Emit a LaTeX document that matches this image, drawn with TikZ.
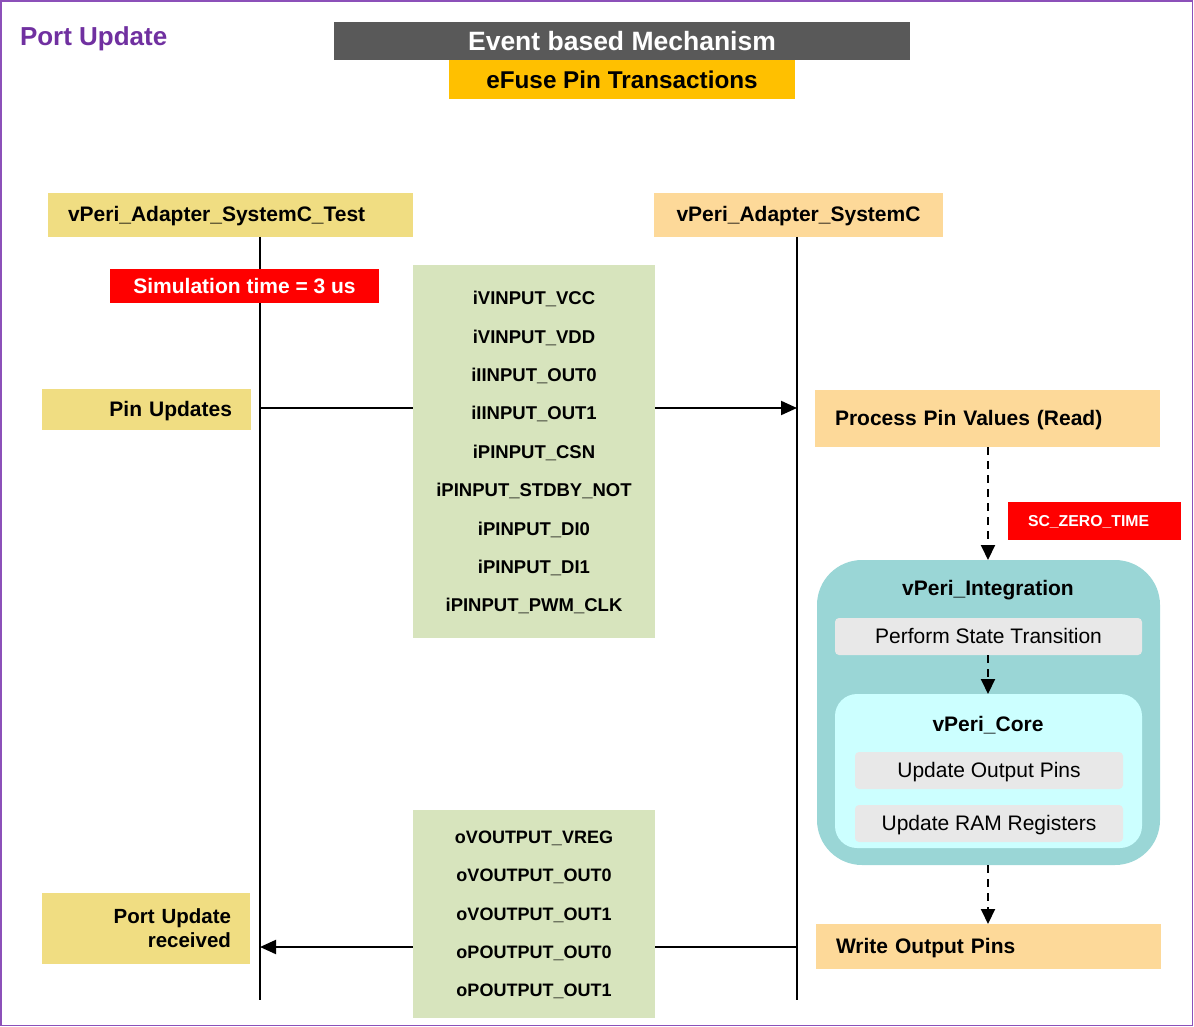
\documentclass[tikz,border=0pt]{standalone}
\usepackage{fontspec}
\setmainfont{Liberation Sans}
\usetikzlibrary{arrows.meta}

\definecolor{framepurple}{RGB}{140,80,185}
\definecolor{titlepurple}{RGB}{112,48,160}
\definecolor{bargrey}{RGB}{89,89,89}
\definecolor{baramber}{RGB}{255,192,0}
\definecolor{khaki}{RGB}{240,221,130}
\definecolor{peach}{RGB}{253,217,153}
\definecolor{sage}{RGB}{215,228,189}
\definecolor{teal}{RGB}{154,214,214}
\definecolor{aqua}{RGB}{204,255,255}
\definecolor{stepgrey}{RGB}{232,232,232}
\definecolor{alertred}{RGB}{255,0,0}

\tikzset{
  lbl/.style={font=\fontsize{21}{25}\selectfont\bfseries, text height=14pt, text depth=0pt},
  plain/.style={font=\fontsize{21}{25}\selectfont, text height=14pt, text depth=0pt},
  blk/.style={inner sep=0pt, outer sep=0pt},
  lifeline/.style={line width=1.5pt},
  msg/.style={line width=2pt, -{Triangle[length=16pt,width=14pt]}},
  flow/.style={line width=2pt, dash pattern=on 8pt off 6pt, -{Triangle[length=15pt,width=14pt]}},
  pinlist/.style={blk, fill=sage, align=center, font=\fontsize{18.5}{38.4}\selectfont\bfseries, text depth=0pt},
  stepbox/.style={blk, fill=stepgrey, rounded corners=4pt, minimum width=268pt, minimum height=37pt, plain},
}

\begin{document}
\begin{tikzpicture}[x=1pt,y=-1pt]
\useasboundingbox (0,0) rectangle (1194,1027);
\draw[framepurple, line width=1.5pt] (1,1) rectangle (1192.5,1025.5);

% headings
\node[anchor=west, text=titlepurple, font=\fontsize{26}{30}\selectfont\bfseries, blk] (title) at (20,39) {Port Update};
\node[blk, fill=bargrey, minimum width=576pt, minimum height=38pt, text=white, font=\fontsize{26.5}{30}\selectfont\bfseries, text height=19pt, text depth=0pt] (mech) at (622,41) {Event based Mechanism};
\node[blk, fill=baramber, minimum width=346pt, minimum height=39pt, font=\fontsize{24.3}{28}\selectfont\bfseries, text height=17pt, text depth=0pt] (efuse) at (622,80) {eFuse Pin Transactions};

% lifeline heads
\node[blk, fill=khaki, minimum width=365pt, minimum height=44pt, lbl, text width=325pt, align=left, inner xsep=20pt] (test) at (230.5,215) {vPeri\_Adapter\_SystemC\_Test};
\node[blk, fill=peach, minimum width=289pt, minimum height=44pt, lbl] (adapter) at (798.5,215) {vPeri\_Adapter\_SystemC};

\coordinate (testend) at (260,1000);
\coordinate (adapterend) at (797,1000);
\draw[lifeline] (test.south -| testend) -- (testend);
\draw[lifeline] (adapter.south -| adapterend) -- (adapterend);

% messages between the lifelines
\coordinate (pinfrom) at (260,408);
\coordinate (pinto) at (797,408);
\coordinate (outfrom) at (797,947);
\coordinate (outto) at (260,947);
\draw[msg] (pinfrom) -- (pinto);
\draw[msg] (outfrom) -- (outto);

\node[blk, fill=alertred, minimum width=269pt, minimum height=34pt, lbl, text=white] (simtime) at (244.5,286) {Simulation time = 3 us};

\node[pinlist, minimum width=242pt, minimum height=373pt] (inpins) at (534,451.5)
  {iVINPUT\_VCC\\iVINPUT\_VDD\\iIINPUT\_OUT0\\iIINPUT\_OUT1\\iPINPUT\_CSN\\iPINPUT\_STDBY\_NOT\\iPINPUT\_DI0\\iPINPUT\_DI1\\iPINPUT\_PWM\_CLK};
\node[pinlist, minimum width=242pt, minimum height=208pt, font=\fontsize{18}{38.3}\selectfont\bfseries] (outpins) at (534,914)
  {oVOUTPUT\_VREG\\oVOUTPUT\_OUT0\\oVOUTPUT\_OUT1\\oPOUTPUT\_OUT0\\oPOUTPUT\_OUT1};

% left-hand events
\node[blk, fill=khaki, minimum width=209pt, minimum height=41pt, lbl, text width=171pt, align=right, inner xsep=19pt] (pinupd) at (146.5,409.5) {Pin Updates};
\node[blk, fill=khaki, minimum width=208pt, minimum height=71pt, font=\fontsize{20.5}{24}\selectfont\bfseries, text width=170pt, align=right, inner xsep=19pt] (portrecv) at (146,928.5) {Port Update\\received};

% right-hand processing chain
\node[blk, fill=peach, minimum width=345pt, minimum height=57pt, lbl, text width=305pt, align=left, inner xsep=20pt] (process) at (987.5,418.5) {Process Pin Values (Read)};
\node[blk, fill=alertred, minimum width=173pt, minimum height=38pt, text=white, font=\fontsize{15.8}{19}\selectfont\bfseries, text height=11pt, text depth=0pt, text width=133pt, align=left, inner xsep=20pt] (zerotime) at (1094.5,521) {SC\_ZERO\_TIME};

\node[blk, fill=teal, rounded corners=45pt, minimum width=343pt, minimum height=305pt] (integ) at (988.5,712.5) {};
\node[blk, lbl] (integtitle) at (988,588) {vPeri\_Integration};
\node[stepbox, minimum width=307pt] (transition) at (988.5,636.5) {Perform State Transition};
\node[blk, fill=aqua, rounded corners=22pt, minimum width=307pt, minimum height=154pt] (core) at (988.5,771) {};
\node[blk, lbl] (coretitle) at (988,724) {vPeri\_Core};
\node[stepbox] (outupd) at (989,770.5) {Update Output Pins};
\node[stepbox] (ramupd) at (989,823.5) {Update RAM Registers};

\node[blk, fill=peach, minimum width=345pt, minimum height=45pt, lbl, text width=305pt, align=left, inner xsep=20pt] (writeout) at (988.5,946.5) {Write Output Pins};

\draw[flow] (process.south -| 988,0) -- (integ.north -| 988,0);
\draw[flow] (transition.south -| 988,0) -- (core.north -| 988,0);
\draw[flow] (integ.south -| 988,0) -- (writeout.north -| 988,0);
\end{tikzpicture}
\end{document}
